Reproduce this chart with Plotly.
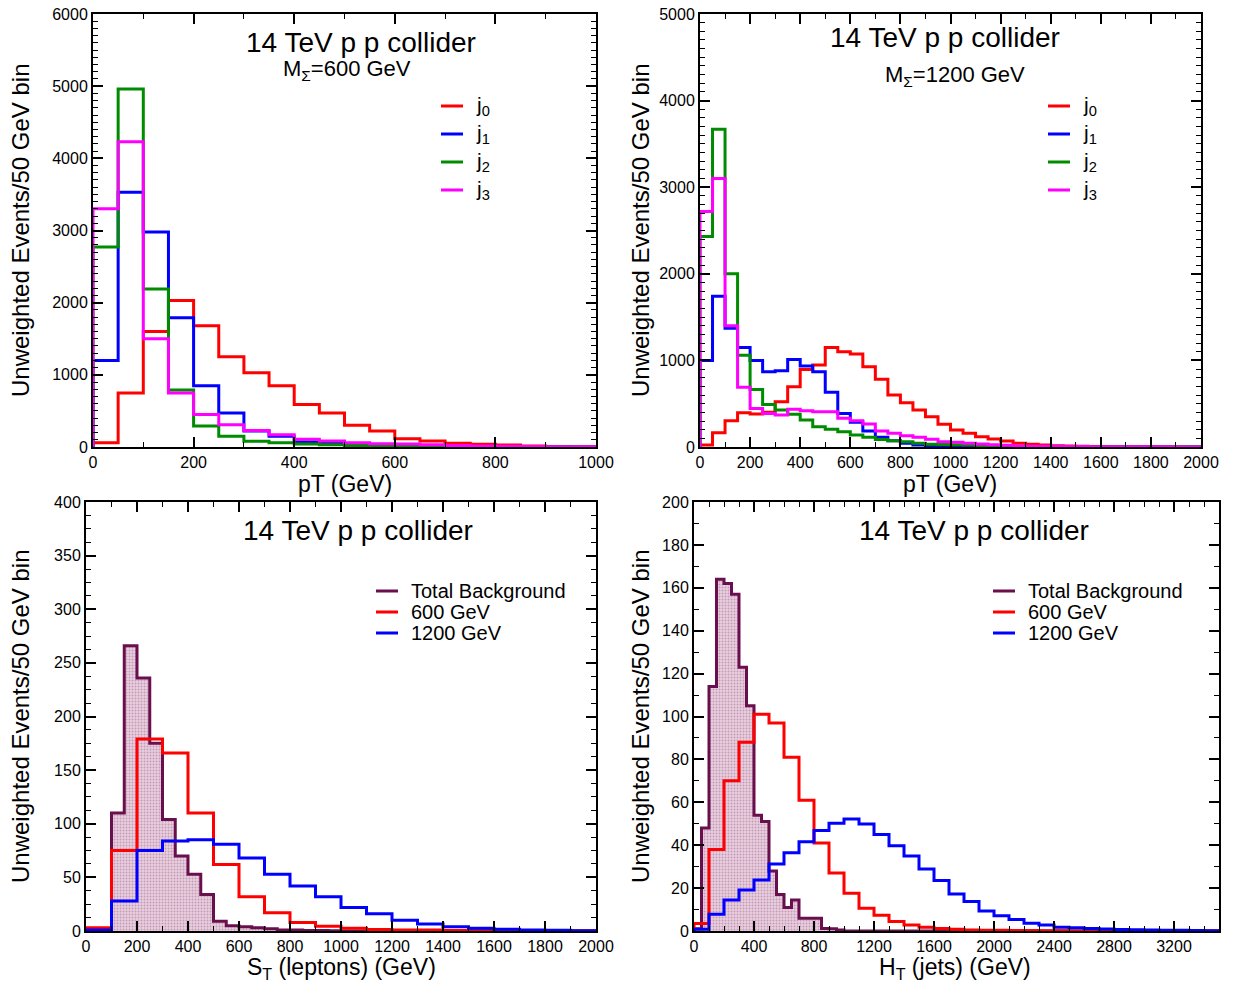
import numpy as np
import plotly.graph_objects as go

W, H = 1234, 988
FONT = "Liberation Sans, Arial, Helvetica, sans-serif"

# ---------------- data ----------------
# Panel 1: jet pT, M=600 GeV, 50 GeV bins from 0 to 1000
p1_bin = 50
p1_j0 = [60, 750, 1600, 2030, 1680, 1250, 1030, 850, 590, 470, 300, 220, 116, 83, 51, 37, 28, 14, 6, 3]
p1_j1 = [1200, 3530, 2980, 1790, 850, 470, 220, 150, 70, 55, 40, 30, 20, 15, 10, 8, 5, 3, 2, 1]
p1_j2 = [2770, 4960, 2190, 790, 290, 150, 80, 60, 40, 30, 20, 15, 10, 8, 6, 4, 3, 2, 1, 1]
p1_j3 = [3300, 4230, 1500, 750, 450, 310, 230, 170, 106, 83, 60, 46, 40, 30, 20, 15, 10, 8, 5, 3]

# Panel 2: jet pT, M=1200 GeV, 50 GeV bins from 0 to 2000
p2_bin = 50
p2_j0 = [23, 165, 304, 396, 381, 400, 523, 696, 896, 946, 1150, 1100, 1073, 927, 781, 600, 512, 427, 350, 262,
         196, 158, 119, 92, 69, 42, 31, 23, 15, 12, 8, 6, 5, 4, 3, 2, 2, 1, 1, 1]
p2_j1 = [1000, 1740, 1370, 1150, 1000, 870, 880, 1010, 935, 870, 631, 388, 285, 185, 112, 73, 42, 23, 15, 10,
         8, 6, 4, 3, 2, 2, 1, 1, 1, 1, 1, 0, 0, 0, 0, 0, 0, 0, 0, 0]
p2_j2 = [2430, 3670, 2000, 1060, 665, 490, 427, 377, 311, 235, 204, 177, 138, 112, 88, 73, 62, 42, 31, 28,
         26, 22, 10, 8, 6, 5, 4, 3, 2, 2, 1, 1, 1, 1, 0, 0, 0, 0, 0, 0]
p2_j3 = [2720, 3100, 1400, 690, 446, 388, 369, 435, 419, 408, 408, 331, 304, 265, 185, 158, 131, 112, 90, 62,
         54, 42, 35, 27, 19, 12, 10, 8, 8, 6, 5, 4, 4, 3, 3, 2, 2, 2, 1, 1]

# Panel 3: S_T (leptons)
p3_bg_bin = 50
p3_bg = [1, 1, 110, 266, 236, 175, 104, 70, 53, 34, 9, 5, 4, 3, 2, 1, 1, 0.5, 0.5, 0.3,
         0, 0, 0, 0, 0, 0, 0, 0, 0, 0, 0, 0, 0, 0, 0, 0, 0, 0, 0, 0]
p3_sig_bin = 100
p3_600 = [3, 75, 179, 166, 110, 62, 32, 17, 8, 4.5, 2.5, 1.5, 1, 1, 0.5, 0.5, 0.3, 0.2, 0.1, 0.1]
p3_1200 = [1, 28, 75, 84, 85, 81, 68, 53, 42, 32, 22, 16, 10, 6.5, 4, 2.5, 1.6, 1, 0.6, 0.3]

# Panel 4: H_T (jets)
p4_bg_bin = 50
p4_bg = [1, 48, 114, 164, 162, 157, 123, 105, 54, 51, 28, 17, 11, 14.5, 6, 6, 6, 1.2, 1, 0.5] + [0] * 50
p4_sig_bin = 100
p4_600 = [3.5, 38, 70, 88, 101, 97, 81, 61, 41, 27, 17.6, 10.6, 7.3, 4.4, 2.8, 1.7, 1.2, 0.8, 0.5, 0.4,
          0.3, 0.2, 0.2, 0.1, 0.1, 0, 0, 0, 0, 0, 0, 0, 0, 0, 0]
p4_1200 = [0.8, 7.8, 14.5, 19.1, 23.8, 31.2, 36.5, 41.6, 46.8, 50.2, 52.2, 49.9, 45, 39.8, 35, 28.9, 23.5,
           17.2, 13.7, 9.3, 7.1, 5.4, 3.6, 2.8, 1.7, 1.5, 1.2, 0.9, 0.7, 0.6, 0.5, 0.4, 0.3, 0.2, 0.1]

jet_labels = ["j<sub>0</sub>", "j<sub>1</sub>", "j<sub>2</sub>", "j<sub>3</sub>"]
bk_labels = ["Total Background", "600 GeV", "1200 GeV"]

RED, BLUE, GREEN, MAG, BG = "#ff0000", "#0000ff", "#008b00", "#ff00ff", "#6a0f4e"


def px(x):
    return x / W


def py(y):
    return 1 - y / H


def step(vals, width):
    edges = np.arange(len(vals) + 1) * width
    xs = [0] + list(edges) + [edges[-1]]
    ys = [0] + list(vals) + [vals[-1], 0]
    return xs, ys


fig = go.Figure()


def add_hist(vals, width, color, xa, ya, fill=False):
    xs, ys = step(vals, width)
    kw = {}
    if fill:
        kw = dict(fill="tozeroy",
                  fillpattern=dict(shape=".", fgcolor="#a0668c", bgcolor="#e8cfdf", size=3, solidity=0.35))
    fig.add_trace(go.Scatter(x=xs, y=ys, mode="lines", line=dict(color=color, width=3, shape="hv"),
                             xaxis=xa, yaxis=ya, showlegend=False, hoverinfo="skip", **kw))


for v, c in zip([p1_j0, p1_j1, p1_j2, p1_j3], [RED, BLUE, GREEN, MAG]):
    add_hist(v, p1_bin, c, "x", "y")
for v, c in zip([p2_j0, p2_j1, p2_j2, p2_j3], [RED, BLUE, GREEN, MAG]):
    add_hist(v, p2_bin, c, "x2", "y2")
add_hist(p3_bg, p3_bg_bin, BG, "x3", "y3", fill=True)
add_hist(p3_600, p3_sig_bin, RED, "x3", "y3")
add_hist(p3_1200, p3_sig_bin, BLUE, "x3", "y3")
add_hist(p4_bg, p4_bg_bin, BG, "x4", "y4", fill=True)
add_hist(p4_600, p4_sig_bin, RED, "x4", "y4")
add_hist(p4_1200, p4_sig_bin, BLUE, "x4", "y4")


def axis(dom, rng, dtick, mdtick, anchor):
    return dict(domain=dom, range=rng, dtick=dtick, tick0=0, anchor=anchor, automargin=False,
                showline=True, linecolor="black", linewidth=2, mirror="allticks",
                ticks="inside", ticklen=10, tickwidth=1.5, tickcolor="black",
                minor=dict(dtick=mdtick, tick0=0, ticks="inside", ticklen=5, tickwidth=1.2, tickcolor="black"),
                showgrid=False, zeroline=False,
                tickfont=dict(family=FONT, size=16, color="black"))


# pixel boxes (left, right, top, bottom)
boxes = [(93, 596, 14, 447), (700, 1201, 14, 447), (86, 596, 502, 931), (694, 1219, 502, 931)]
xr = [[0, 1000], [0, 2000], [0, 2000], [0, 3500]]
yr = [[0, 6000], [0, 5000], [0, 400], [0, 200]]
xd = [(200, 100), (200, 100), (200, 100), (400, 100)]
yd = [(1000, 100), (1000, 100), (50, 12.5), (20, 10)]

layout = dict(width=W, height=H, margin=dict(l=0, r=0, t=0, b=0, pad=0, autoexpand=False),
              paper_bgcolor="white", plot_bgcolor="white", showlegend=False)
for i, (l, r, t, b) in enumerate(boxes):
    sfx = "" if i == 0 else str(i + 1)
    layout["xaxis" + sfx] = axis([px(l), px(r)], xr[i], xd[i][0], xd[i][1], "y" + sfx)
    layout["yaxis" + sfx] = axis([py(b), py(t)], yr[i], yd[i][0], yd[i][1], "x" + sfx)
fig.update_layout(**layout)

ann = []


def text(x, y, s, size, xanchor="center", angle=0):
    ann.append(dict(x=px(x), y=py(y), xref="paper", yref="paper", text=s, showarrow=False,
                    xanchor=xanchor, yanchor="middle", textangle=angle,
                    font=dict(family=FONT, size=size, color="black")))


ytitle = "Unweighted Events/50 GeV bin"
text(20, 230, ytitle, 24, angle=-90)
text(640, 230, ytitle, 24, angle=-90)
text(20, 716, ytitle, 24, angle=-90)
text(640, 716, ytitle, 24, angle=-90)

text(345, 484, "pT (GeV)", 23)
text(950, 484, "pT (GeV)", 23)
text(341, 968, "S<sub>T</sub> (leptons) (GeV)", 23)
text(955, 968, "H<sub>T</sub> (jets) (GeV)", 23)

text(361, 42, "14 TeV p p collider", 28)
text(945, 38, "14 TeV p p collider", 28)
text(358, 530, "14 TeV p p collider", 28)
text(974, 530, "14 TeV p p collider", 28)
text(347, 70, "M<sub>Σ</sub>=600 GeV", 22)
text(955, 76, "M<sub>Σ</sub>=1200 GeV", 22)

shapes = []


def legend(x0, ys, labels, colors, size):
    for yy, lab, col in zip(ys, labels, colors):
        shapes.append(dict(type="line", xref="paper", yref="paper", x0=px(x0), x1=px(x0 + 22),
                           y0=py(yy), y1=py(yy), line=dict(color=col, width=3)))
        text(x0 + 33, yy, lab, size, xanchor="left")


legend(441, [106, 134, 162, 190], jet_labels, [RED, BLUE, GREEN, MAG], 21)
legend(1048, [106, 134, 162, 190], jet_labels, [RED, BLUE, GREEN, MAG], 21)
legend(376, [591, 612, 633], bk_labels, [BG, RED, BLUE], 20)
legend(993, [591, 612, 633], bk_labels, [BG, RED, BLUE], 20)

fig.update_layout(annotations=ann, shapes=shapes)
fig.write_html("out.html")
